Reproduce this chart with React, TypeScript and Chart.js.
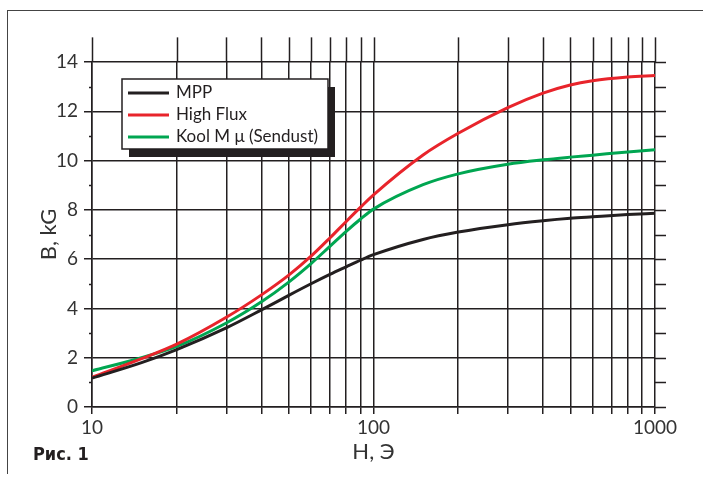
import React, { useEffect, useRef } from 'react';
import { Chart, registerables } from 'chart.js';

Chart.register(...registerables);

// ---- data ----
const H_VALUES = [10, 15, 20, 30, 40, 50, 60, 70, 80, 90, 100, 150, 200, 300, 400, 500, 600, 800, 1000];
const MPP = [1.17, 1.8, 2.33, 3.21, 3.94, 4.53, 5.0, 5.38, 5.69, 5.96, 6.18, 6.8, 7.1, 7.4, 7.56, 7.66, 7.72, 7.81, 7.86];
const HIGH_FLUX = [1.2, 1.96, 2.55, 3.64, 4.55, 5.35, 6.12, 6.86, 7.53, 8.11, 8.61, 10.23, 11.11, 12.15, 12.74, 13.07, 13.24, 13.39, 13.45];
const KOOL_MU = [1.47, 2.0, 2.46, 3.41, 4.27, 5.07, 5.82, 6.52, 7.13, 7.63, 8.03, 9.02, 9.46, 9.85, 10.03, 10.14, 10.22, 10.35, 10.44];

const SERIES_LABELS = ['MPP', 'High Flux', 'Kool M \u03bc (Sendust)'];
const SERIES_COLORS = ['#231f20', '#e8242b', '#00a651'];

const X_TICKS = [10, 20, 30, 40, 50, 60, 70, 80, 90, 100, 200, 300, 400, 500, 600, 700, 800, 900, 1000];
const X_LABELED = [10, 100, 1000];
const Y_MIN = 0;
const Y_MAX = 14;
const Y_GRID_EXTEND_TO = 15;

const X_TITLE = 'H, \u042d';
const Y_TITLE = 'B, kG';
const FIG_LABEL = '\u0420\u0438\u0441. 1';

const GRID = '#231f20';
const TEXT = '#333333';
const FONT = 'Lato, "Open Sans", "DejaVu Sans", sans-serif';

const gridExtensions = {
  id: 'gridExtensions',
  beforeDatasetsDraw(chart: any) {
    const { ctx, chartArea, scales } = chart;
    const x = scales.x;
    const y = scales.y;
    ctx.save();
    ctx.strokeStyle = GRID;
    ctx.lineWidth = 1.5;
    const yTop = y.getPixelForValue(Y_GRID_EXTEND_TO);
    X_TICKS.forEach((v) => {
      const px = Math.round(x.getPixelForValue(v)) + 0.5;
      ctx.beginPath();
      ctx.moveTo(px, yTop);
      ctx.lineTo(px, chartArea.top);
      ctx.stroke();
    });
    for (let v = Y_MIN; v <= Y_MAX; v++) {
      const py = Math.round(y.getPixelForValue(v)) + 0.5;
      ctx.beginPath();
      ctx.moveTo(chartArea.right, py);
      ctx.lineTo(chartArea.right + 11, py);
      if (v % 2 !== 0) {
        ctx.moveTo(chartArea.left - 3, py);
        ctx.lineTo(chartArea.left, py);
      }
      ctx.stroke();
    }
    ctx.restore();
  },
};

const boxLegend = {
  id: 'boxLegend',
  afterDraw(chart: any) {
    const { ctx, chartArea } = chart;
    const bx = chartArea.left + 30;
    const by = chartArea.top + 17;
    const bw = 206;
    const bh = 70;
    ctx.save();
    ctx.fillStyle = '#231f20';
    ctx.fillRect(bx + 7, by + 8, bw, bh);
    ctx.fillStyle = '#ffffff';
    ctx.fillRect(bx, by, bw, bh);
    ctx.lineWidth = 1.5;
    ctx.strokeStyle = '#231f20';
    ctx.strokeRect(bx, by, bw, bh);
    chart.data.datasets.forEach((ds: any, i: number) => {
      const ry = by + 14 + i * 22;
      ctx.strokeStyle = ds.borderColor;
      ctx.lineWidth = 3;
      ctx.beginPath();
      ctx.moveTo(bx + 6, ry);
      ctx.lineTo(bx + 47, ry);
      ctx.stroke();
      ctx.fillStyle = '#231f20';
      ctx.font = `17px ${FONT}`;
      ctx.textBaseline = 'middle';
      ctx.textAlign = 'left';
      ctx.fillText(ds.label, bx + 54, ry);
    });
    ctx.restore();
  },
};

export default function App() {
  const canvasRef = useRef<HTMLCanvasElement | null>(null);

  useEffect(() => {
    const series = [MPP, HIGH_FLUX, KOOL_MU];
    const chart = new Chart(canvasRef.current as HTMLCanvasElement, {
      type: 'line',
      data: {
        datasets: series.map((vals, i) => ({
          label: SERIES_LABELS[i],
          data: H_VALUES.map((h, j) => ({ x: h, y: vals[j] })),
          borderColor: SERIES_COLORS[i],
          backgroundColor: SERIES_COLORS[i],
          borderWidth: 3,
          pointRadius: 0,
          cubicInterpolationMode: 'monotone',
          fill: false,
        })),
      },
      options: {
        animation: false,
        responsive: false,
        maintainAspectRatio: false,
        layout: { padding: { top: 62, right: 48, bottom: 0, left: 0 } },
        plugins: { legend: { display: false }, tooltip: { enabled: false } },
        scales: {
          x: {
            type: 'logarithmic',
            min: 10,
            max: 1000,
            afterBuildTicks: (s: any) => {
              s.ticks = X_TICKS.map((v) => ({ value: v }));
            },
            afterFit: (s: any) => {
              s.height = 74;
            },
            ticks: {
              autoSkip: false,
              maxRotation: 0,
              minRotation: 0,
              padding: 2,
              color: TEXT,
              font: { family: FONT, size: 19 },
              callback: (v: any) => (X_LABELED.includes(Number(v)) ? String(v) : ''),
            },
            grid: { color: GRID, lineWidth: 1.5, tickLength: 7, tickColor: GRID, tickWidth: 1.5 },
            border: { display: true, color: GRID, width: 1.5 },
            title: { display: true, text: X_TITLE, color: TEXT, font: { family: FONT, size: 22 }, padding: 16 },
          },
          y: {
            type: 'linear',
            min: Y_MIN,
            max: Y_MAX,
            afterFit: (s: any) => {
              s.width = 92;
            },
            ticks: {
              stepSize: 1,
              padding: 6,
              color: TEXT,
              font: { family: FONT, size: 19 },
              callback: (v: any) => (Number(v) % 2 === 0 ? String(v) : ''),
            },
            grid: {
              color: GRID,
              lineWidth: 1.5,
              tickLength: 8,
              tickWidth: 1.5,
              tickColor: (c: any) => (c.tick && c.tick.value % 2 === 0 ? GRID : 'rgba(0,0,0,0)'),
            },
            border: { display: true, color: GRID, width: 1.5 },
            title: {
              display: true,
              text: Y_TITLE,
              color: TEXT,
              font: { family: FONT, size: 22 },
              padding: { top: 36, bottom: 0 },
            },
          },
        },
      } as any,
      plugins: [gridExtensions, boxLegend],
    });
    return () => chart.destroy();
  }, []);

  return (
    <div style={{ position: 'fixed', left: 0, top: 0, width: 703, height: 481, background: '#fff', overflow: 'hidden' }}>
      <div
        style={{
          position: 'absolute',
          left: 7,
          top: 10,
          width: 696,
          height: 463,
          borderTop: '1px solid #444',
          borderLeft: '1px solid #444',
        }}
      />
      <canvas ref={canvasRef} width={703} height={481} style={{ position: 'absolute', left: 0, top: 0 }} />
      <div
        style={{
          position: 'absolute',
          left: 33,
          top: 445,
          fontFamily: '"Liberation Sans Narrow", "Arial Narrow", "DejaVu Sans Condensed", sans-serif',
          fontWeight: 'bold',
          fontSize: 18,
          lineHeight: '18px',
          color: '#231f20',
        }}
      >
        {FIG_LABEL}
      </div>
    </div>
  );
}
